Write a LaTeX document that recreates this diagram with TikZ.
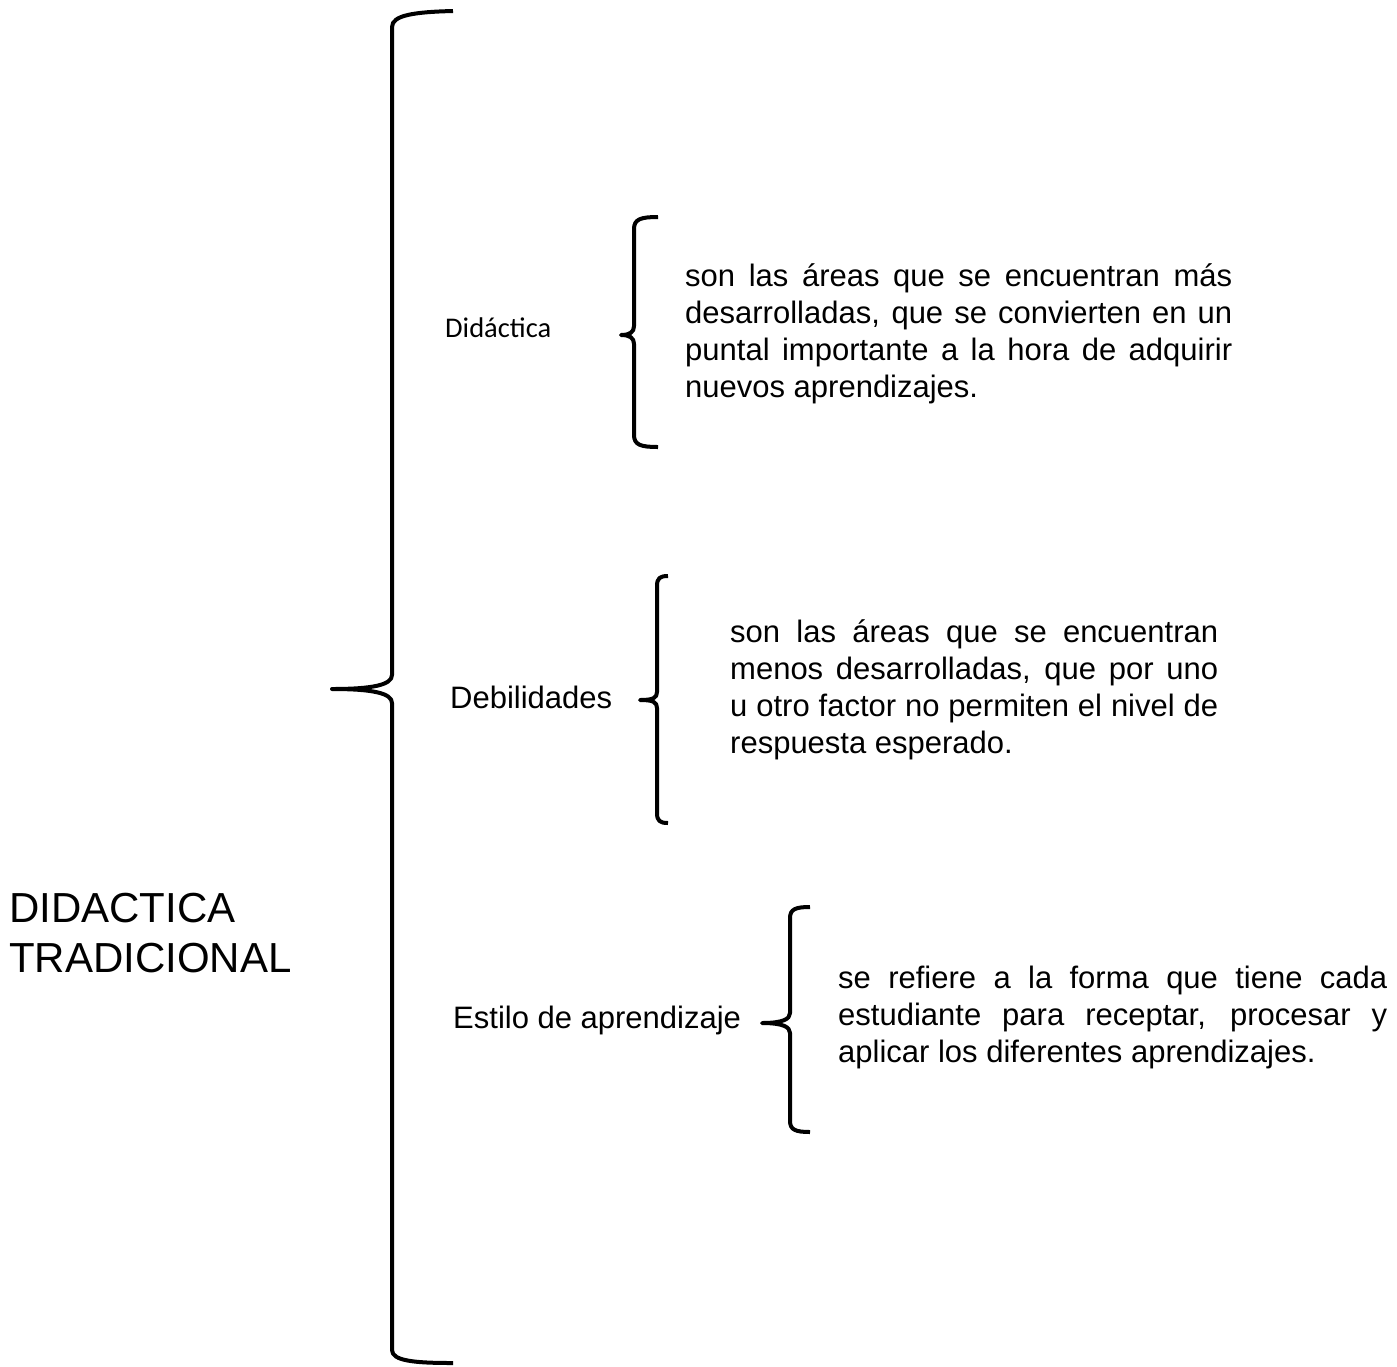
\documentclass[tikz,border=0pt]{standalone}
\usepackage{fontspec}
\setmainfont{Liberation Sans}
\newfontfamily\calibri{Carlito}
\usetikzlibrary{positioning}

\begin{document}
\begin{tikzpicture}[x=1pt, y=-1pt,
  llave/.style={line width=4pt, line join=round},
  parrafo/.style={anchor=base west, inner sep=0pt, align=justify, font=\fontsize{31}{37.3}\selectfont},
  etiqueta/.style={anchor=base west, inner sep=0pt, font=\fontsize{31}{37}\selectfont}]

\useasboundingbox (0,0) rectangle (1397,1366);

  % Texts
\node[anchor=base west, inner sep=0pt, text width=320pt, align=left, font=\fontsize{42}{50}\selectfont] (titulo) at (9,922) {DIDACTICA\\TRADICIONAL};
\node[anchor=base west, inner sep=0pt, font=\calibri\fontsize{28.5}{34}\selectfont] (didactica) at (445,337) {Didáctica};
\node[etiqueta] (debilidades) at (450,708) {Debilidades};
\node[etiqueta] (estilo) at (453,1028) {Estilo de aprendizaje};

\node[parrafo, text width=547pt] (txtdid) at (685,286) {son las áreas que se encuentran más\linebreak desarrolladas, que se convierten en un\linebreak puntal importante a la hora de adquirir\linebreak nuevos aprendizajes.};
\node[parrafo, text width=488pt] (txtdeb) at (730,642) {son las áreas que se encuentran\linebreak menos desarrolladas, que por uno\linebreak u otro factor no permiten el nivel de\linebreak respuesta esperado.};
\node[parrafo, text width=549pt] (txtest) at (838,988) {se refiere a la forma que tiene cada\linebreak estudiante para receptar, procesar y\linebreak aplicar los diferentes aprendizajes.};

  % Braces
\draw[llave] (453,11) .. controls (415,12) and (392,15) .. (392,27) -- (392,675) .. controls (392,685) and (372,689) .. (332,689) .. controls (372,689) and (392,693) .. (392,703) -- (392,1350) .. controls (392,1361) and (415,1363) .. (453,1363);
\draw[llave] (658,217) .. controls (641,217) and (634,219) .. (634,229) -- (634,326) .. controls (634,332) and (630,335) .. (621,335) .. controls (630,335) and (634,338) .. (634,344) -- (634,435) .. controls (634,445) and (641,447) .. (658,447);
\draw[llave] (668,576) .. controls (660,576) and (657,578) .. (657,586) -- (657,692) .. controls (657,698) and (653,700) .. (640,700) .. controls (653,700) and (657,702) .. (657,708) -- (657,813) .. controls (657,821) and (660,823) .. (668,823);
\draw[llave] (810,907) .. controls (796,907) and (790,909) .. (790,918) -- (790,1013) .. controls (790,1019) and (783,1023) .. (762,1023) .. controls (783,1023) and (790,1027) .. (790,1033) -- (790,1121) .. controls (790,1130) and (796,1132) .. (810,1132);

\end{tikzpicture}
\end{document}
